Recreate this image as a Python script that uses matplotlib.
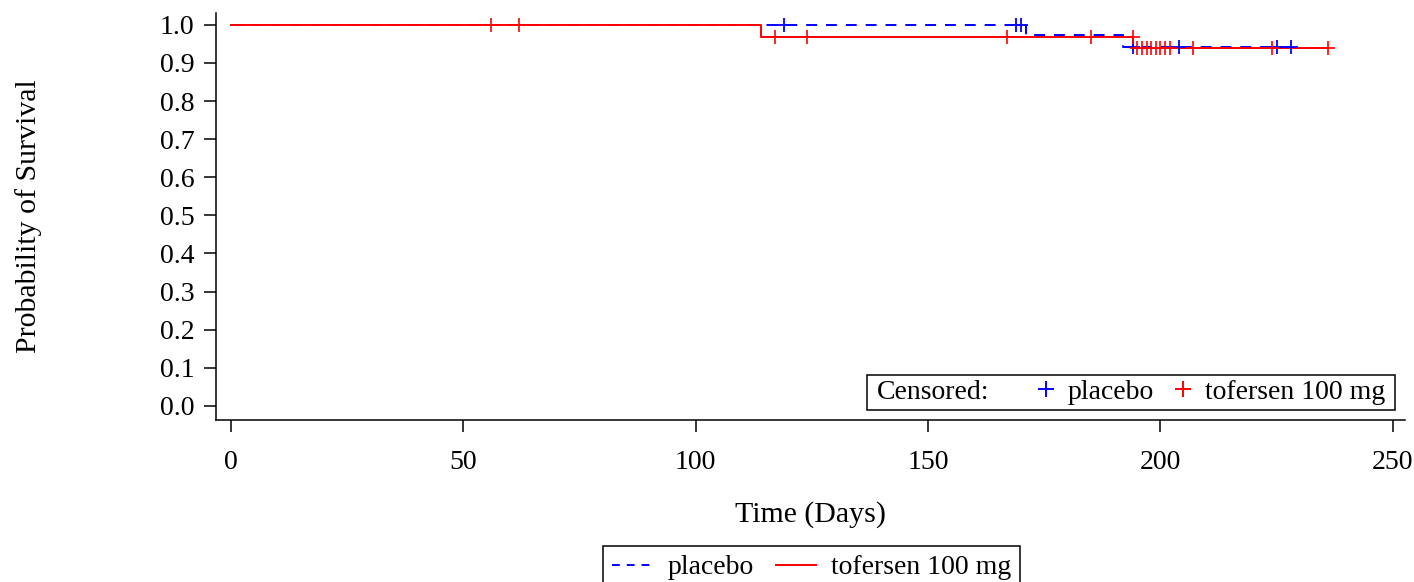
import matplotlib

matplotlib.use("Agg")
import matplotlib.pyplot as plt
import numpy as np
from matplotlib.lines import Line2D
from matplotlib.offsetbox import AnchoredOffsetbox, DrawingArea, HPacker, TextArea


# Kaplan-Meier step curves (day of step, survival from that day on)
placebo_days = [0, 171, 192, 228]
placebo_surv = [1.0, 0.972, 0.941, 0.941]
tofersen_days = [0, 114, 194, 236]
tofersen_surv = [1.0, 0.969, 0.938, 0.938]

# censored observations (days)
placebo_censored = [119, 169, 170, 194, 204, 225, 228]
tofersen_censored = [56, 62, 117, 124, 167, 185, 194, 195, 196, 197, 198, 199,
                     200, 201, 202, 207, 224, 236]

x_ticks = [0, 50, 100, 150, 200, 250]
y_ticks = [0.0, 0.1, 0.2, 0.3, 0.4, 0.5, 0.6, 0.7, 0.8, 0.9, 1.0]

BLUE = "#0000ff"
RED = "#ff0000"
FONT_SIZE = 20
LABEL_SIZE = 21.5
PLOT_DASH = (0, (5.6, 4.6))
LEGEND_DASH = (0, (4, 3.6))

plt.rcParams["font.family"] = ["Liberation Serif", "DejaVu Serif"]
plt.rcParams["font.size"] = FONT_SIZE


def surv_at(days, surv, times):
    # value of the step curve just before each time (S(t-))
    idx = np.searchsorted(days, times, side="left") - 1
    idx = np.clip(idx, 0, len(surv) - 1)
    return np.asarray(surv)[idx]


def censor_key(color):
    area = DrawingArea(17, 14, 0, 0)
    area.add_artist(Line2D([8.5], [7], marker="+", color=color, markersize=11, markeredgewidth=1.4))
    return area


def spacer(width):
    return DrawingArea(width, 1, 0, 0)


figure = plt.figure(figsize=(14.14, 5.82), dpi=100)
axis = figure.add_axes([0.1528, 0.2784, 0.9936 - 0.1528, 0.9777 - 0.2784])

axis.step(placebo_days, placebo_surv, where="post", color=BLUE, lw=1.4,
          linestyle=PLOT_DASH, zorder=2)
axis.step(tofersen_days, tofersen_surv, where="post", color=RED, lw=1.4, zorder=3)

axis.plot(placebo_censored, surv_at(placebo_days, placebo_surv, placebo_censored),
          linestyle="none", marker="+", color=BLUE, markersize=9.5, markeredgewidth=1.3, zorder=4)
axis.plot(tofersen_censored, surv_at(tofersen_days, tofersen_surv, tofersen_censored),
          linestyle="none", marker="+", color=RED, markersize=9.5, markeredgewidth=1.2, zorder=5)

axis.set_xlim(-3.2, 252.6)
axis.set_ylim(-0.037, 1.031)
axis.set_xticks(x_ticks)
axis.set_yticks(y_ticks)
axis.set_yticklabels([f"{v:.1f}" for v in y_ticks])
axis.tick_params(direction="out", length=8.5, width=1.1, labelsize=FONT_SIZE)
axis.tick_params(axis="x", pad=13)
axis.tick_params(axis="y", pad=7)
for side in ("top", "right"):
    axis.spines[side].set_visible(False)
for side in ("left", "bottom"):
    axis.spines[side].set_linewidth(1.1)

axis.set_xlabel("Time (Days)", fontsize=LABEL_SIZE)
axis.set_ylabel("Probability of Survival", fontsize=LABEL_SIZE)
axis.xaxis.set_label_coords(0.5, -0.2)
axis.yaxis.set_label_coords(-0.146, 0.5)

# inset legend for censoring marks
text_props = {"fontsize": FONT_SIZE, "color": "black"}
entries = HPacker(
    children=[
        TextArea("Censored:", textprops=text_props),
        spacer(7.2),
        HPacker(children=[censor_key(BLUE), TextArea("placebo", textprops=text_props)], sep=7, pad=0),
        HPacker(children=[censor_key(RED), TextArea("tofersen 100 mg", textprops=text_props)], sep=7, pad=0),
    ],
    sep=12.5,
    pad=0,
    align="center",
)
row = HPacker(children=[spacer(3.6), entries, spacer(3.6)], sep=0, pad=0, align="center")
censor_box = AnchoredOffsetbox(loc="lower right", child=row, pad=0.18, borderpad=0.36,
                               frameon=True, bbox_to_anchor=(1, 0),
                               bbox_transform=axis.transAxes,
                               prop={"size": FONT_SIZE})
censor_box.patch.set_edgecolor("black")
censor_box.patch.set_linewidth(1.1)
censor_box.patch.set_boxstyle("square", pad=0)
axis.add_artist(censor_box)

# group legend under the plot
handles = [
    Line2D([], [], color=BLUE, lw=1.4, linestyle=LEGEND_DASH),
    Line2D([], [], color=RED, lw=1.4),
]
group_legend = figure.legend(
    handles,
    ["placebo", "tofersen 100 mg"],
    loc="upper center",
    bbox_to_anchor=(0.574, 0.061),
    ncol=2,
    frameon=True,
    fancybox=False,
    framealpha=1,
    edgecolor="black",
    borderaxespad=0,
    handlelength=1.45,
    handletextpad=0.55,
    columnspacing=0.8,
    fontsize=FONT_SIZE,
    borderpad=0.3,
)
group_legend.get_frame().set_linewidth(1.1)

figure.savefig("out.png", dpi=100)
plt.close(figure)
